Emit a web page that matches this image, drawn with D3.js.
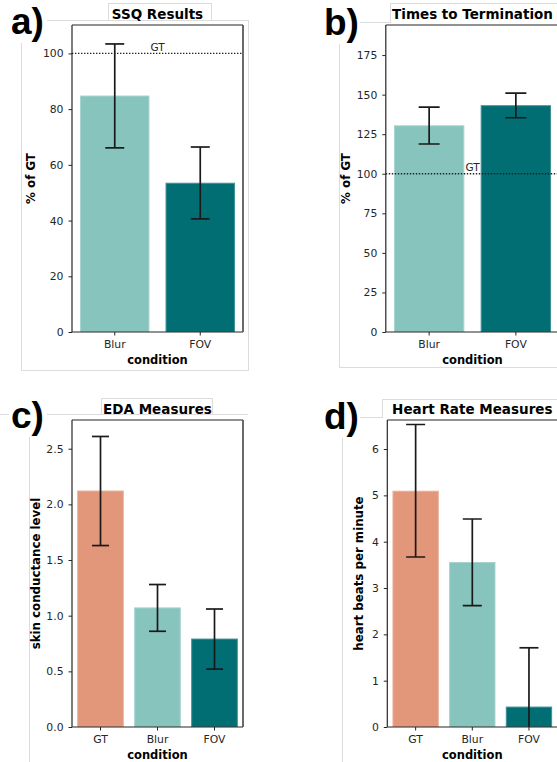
<!DOCTYPE html>
<html>
<head>
<meta charset="utf-8">
<script src="https://cdn.jsdelivr.net/npm/d3@7"></script>
<style>
  html, body { margin: 0; padding: 0; background: #fff; }
  svg { display: block; }
</style>
</head>
<body>
<svg id="chart" width="557" height="762"></svg>
<script>
// ---------------- data ----------------
const condAB = ["Blur", "FOV"];
const condCD = ["GT", "Blur", "FOV"];

const ssqMean = [84.7, 53.4];
const ssqLow  = [66.1, 40.6];
const ssqHigh = [103.4, 66.4];
const ssqTicks = [0, 20, 40, 60, 80, 100];

const termMean = [130.3, 143.0];
const termLow  = [118.8, 135.4];
const termHigh = [142.1, 151.0];
const termTicks = [0, 25, 50, 75, 100, 125, 150, 175];

const edaMean = [2.12, 1.07, 0.79];
const edaLow  = [1.63, 0.86, 0.52];
const edaHigh = [2.61, 1.28, 1.06];
const edaTicks = [0, 0.5, 1.0, 1.5, 2.0, 2.5];

const hrMean = [5.09, 3.55, 0.43];
const hrLow  = [3.67, 2.62, -0.85];
const hrHigh = [6.53, 4.49, 1.71];
const hrTicks = [0, 1, 2, 3, 4, 5, 6];

const gtRefValue = 100;

const condColors = { GT: "#e2967a", Blur: "#87c4bd", FOV: "#016e74" };
const condEdge   = { GT: "#eab09b", Blur: "#a6d4ce", FOV: "#3f9096" };

// ---------------- drawing ----------------
const svg = d3.select("#chart");
const FONT = "'DejaVu Sans', sans-serif";
const GRAY = "#dcdcdc";

function line(x1, y1, x2, y2) {
  svg.append("line").attr("x1", x1).attr("y1", y1).attr("x2", x2).attr("y2", y2)
    .attr("stroke", GRAY).attr("stroke-width", 1);
}

// faint frames of the pasted panels
// a
svg.append("rect").attr("x", 21.5).attr("y", 20.5).attr("width", 227).attr("height", 350)
  .attr("fill", "none").attr("stroke", GRAY);
svg.append("rect").attr("x", 108.5).attr("y", 3.5).attr("width", 103).attr("height", 17)
  .attr("fill", "#fff").attr("stroke", GRAY);
// b
line(339.5, 22.5, 339.5, 367.5);
line(339.5, 22.5, 391, 22.5);
line(390.5, 3, 390.5, 22.5);
line(390.5, 3.5, 557, 3.5);
line(339.5, 367.5, 557, 367.5);
// c
line(0, 414.5, 248, 414.5);
svg.append("rect").attr("x", 101.5).attr("y", 398.5).attr("width", 111).attr("height", 16)
  .attr("fill", "#fff").attr("stroke", GRAY);
line(29.5, 414.5, 29.5, 762);
// d
line(342.5, 417.5, 342.5, 762);
line(342.5, 417.5, 383, 417.5);
line(382.5, 399.5, 382.5, 417.5);
line(382.5, 399.5, 557, 399.5);

function drawPanel(p) {
  const g = svg.append("g");
  const x = d3.scaleBand().domain(p.cats).range([p.left, p.right]).paddingInner(0.2).paddingOuter(0.1);
  const y = d3.scaleLinear().domain([0, p.ymax]).range([p.bottom, p.top]);

  const clipId = "clip" + p.id;
  svg.append("clipPath").attr("id", clipId).append("rect")
    .attr("x", p.left).attr("y", p.top).attr("width", p.right - p.left).attr("height", p.bottom - p.top);

  const plot = g.append("g").attr("clip-path", `url(#${clipId})`);

  // bars
  plot.selectAll("rect.bar").data(p.cats).enter().append("rect")
    .attr("class", "bar")
    .attr("x", d => x(d))
    .attr("width", x.bandwidth())
    .attr("y", (d, i) => y(p.mean[i]))
    .attr("height", (d, i) => y(0) - y(p.mean[i]))
    .attr("fill", d => condColors[d])
    .attr("stroke", d => condEdge[d])
    .attr("stroke-width", 1);

  // reference GT line
  if (p.gtLine) {
    plot.append("line")
      .attr("x1", p.left).attr("x2", p.right)
      .attr("y1", y(gtRefValue)).attr("y2", y(gtRefValue))
      .attr("stroke", "#222").attr("stroke-width", 1.4)
      .attr("stroke-dasharray", "1.4,1.6");
    g.append("text")
      .attr("x", (x(p.cats[0]) + x(p.cats[1]) + x.bandwidth()) / 2)
      .attr("y", y(gtRefValue) - 2.5)
      .attr("text-anchor", "middle")
      .attr("font-family", FONT).attr("font-size", 10.5).attr("fill", "#262626")
      .text("GT");
  }

  // error bars
  const cap = p.cap;
  p.cats.forEach((c, i) => {
    const cx = x(c) + x.bandwidth() / 2;
    const eg = plot.append("g").attr("stroke", "#1a1a1a").attr("stroke-width", 1.7);
    eg.append("line").attr("x1", cx).attr("x2", cx).attr("y1", y(p.low[i])).attr("y2", y(p.high[i]));
    eg.append("line").attr("x1", cx - cap / 2).attr("x2", cx + cap / 2).attr("y1", y(p.high[i])).attr("y2", y(p.high[i]));
    eg.append("line").attr("x1", cx - cap / 2).attr("x2", cx + cap / 2).attr("y1", y(p.low[i])).attr("y2", y(p.low[i]));
  });

  // axes
  const ya = g.append("g").attr("transform", `translate(${p.left},0)`)
    .call(d3.axisLeft(y).tickValues(p.ticks).tickSize(3.5).tickPadding(5)
      .tickFormat(p.fmt));
  const xa = g.append("g").attr("transform", `translate(0,${p.bottom})`)
    .call(d3.axisBottom(x).tickSize(3.5).tickPadding(5));
  [ya, xa].forEach(a => {
    a.select(".domain").remove();
    a.selectAll(".tick line").attr("stroke", "#262626").attr("stroke-width", 1);
    a.selectAll(".tick text").attr("font-family", FONT).attr("font-size", 10.8).attr("fill", "#262626");
  });

  // spines
  const sp = g.append("g").attr("fill", "none");
  sp.append("line").attr("x1", p.left).attr("x2", p.left).attr("y1", p.top).attr("y2", p.bottom)
    .attr("stroke", "#262626").attr("stroke-width", 1.2);
  sp.append("line").attr("x1", p.left).attr("x2", p.right).attr("y1", p.bottom).attr("y2", p.bottom)
    .attr("stroke", "#262626").attr("stroke-width", 1.2);
  sp.append("line").attr("x1", p.left).attr("x2", p.right).attr("y1", p.top).attr("y2", p.top)
    .attr("stroke", "#262626").attr("stroke-width", 1.2);
  if (p.rightSpine) {
    sp.append("line").attr("x1", p.right).attr("x2", p.right).attr("y1", p.top).attr("y2", p.bottom)
      .attr("stroke", "#5a5a5a").attr("stroke-width", 1.8);
  }

  // axis labels
  g.append("text")
    .attr("x", (p.left + p.right) / 2).attr("y", p.bottom + 32)
    .attr("text-anchor", "middle")
    .attr("font-family", FONT).attr("font-size", 11.5).attr("font-weight", "bold").attr("fill", "#000")
    .text("condition");
  g.append("text")
    .attr("transform", `translate(${p.ylabX},${(p.top + p.bottom) / 2}) rotate(-90)`)
    .attr("text-anchor", "middle")
    .attr("font-family", FONT).attr("font-size", 11.8).attr("font-weight", "bold").attr("fill", "#000")
    .text(p.ylabel);

  // title
  g.append("text")
    .attr("x", (p.left + p.right) / 2).attr("y", p.top - 6)
    .attr("text-anchor", "middle")
    .attr("font-family", FONT).attr("font-size", 13.5).attr("font-weight", "bold").attr("fill", "#000")
    .text(p.title);

  // panel letter
  svg.append("rect").attr("x", p.lx - 2).attr("y", p.ly - 34).attr("width", 38).attr("height", 43).attr("fill", "#fff");
  svg.append("text")
    .attr("x", p.lx).attr("y", p.ly)
    .attr("font-family", "'Liberation Sans', Arial, sans-serif")
    .attr("font-size", 37).attr("font-weight", "bold").attr("fill", "#000")
    .text(p.letter);
}

drawPanel({
  id: "a", cats: condAB, mean: ssqMean, low: ssqLow, high: ssqHigh, ticks: ssqTicks,
  fmt: d3.format("d"), ymax: 110.2, left: 72, right: 243, top: 25, bottom: 332,
  title: "SSQ Results", ylabel: "% of GT", ylabX: 35, gtLine: true, cap: 19,
  rightSpine: true, letter: "a)", lx: 11, ly: 34
});
drawPanel({
  id: "b", cats: condAB, mean: termMean, low: termLow, high: termHigh, ticks: termTicks,
  fmt: d3.format("d"), ymax: 194, left: 385.8, right: 559.2, top: 25, bottom: 332,
  title: "Times to Termination", ylabel: "% of GT", ylabX: 350, gtLine: true, cap: 21,
  rightSpine: false, letter: "b)", lx: 324, ly: 35
});
drawPanel({
  id: "c", cats: condCD, mean: edaMean, low: edaLow, high: edaHigh, ticks: edaTicks,
  fmt: d3.format(".1f"), ymax: 2.758, left: 72, right: 243, top: 420, bottom: 727,
  title: "EDA Measures", ylabel: "skin conductance level", ylabX: 40, gtLine: false, cap: 17,
  rightSpine: true, letter: "c)", lx: 11, ly: 428
});
drawPanel({
  id: "d", cats: condCD, mean: hrMean, low: hrLow, high: hrHigh, ticks: hrTicks,
  fmt: d3.format("d"), ymax: 6.627, left: 387.3, right: 557.3, top: 420, bottom: 727,
  title: "Heart Rate Measures", ylabel: "heart beats per minute", ylabX: 363, gtLine: false, cap: 19,
  rightSpine: false, letter: "d)", lx: 324, ly: 429
});
</script>
</body>
</html>
